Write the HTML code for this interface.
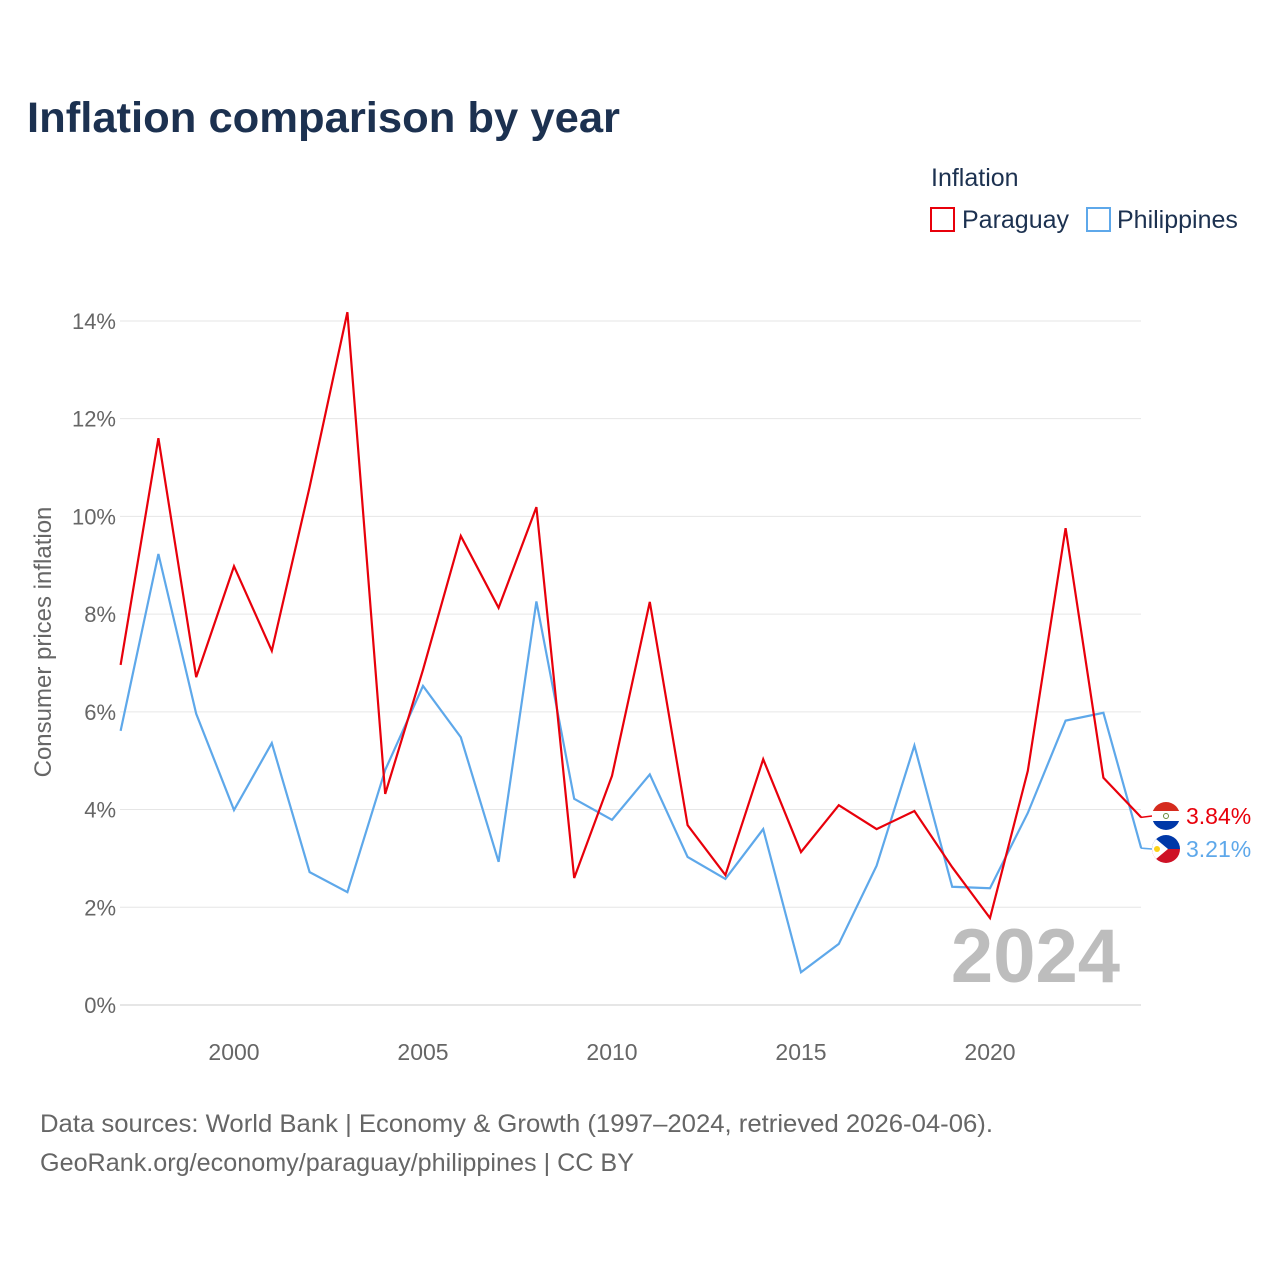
<!DOCTYPE html>
<html><head><meta charset="utf-8"><style>
body{margin:0;background:#fff;font-family:"Liberation Sans",sans-serif}
</style></head><body>
<svg width="1280" height="1280" xmlns="http://www.w3.org/2000/svg" font-family="Liberation Sans, sans-serif" id="chart">
<defs>
<clipPath id="c1"><circle cx="1166" cy="816" r="14"/></clipPath>
<clipPath id="c2"><circle cx="1166" cy="849" r="14"/></clipPath>
</defs>
<text x="27" y="132" font-size="43" font-weight="bold" fill="#1c3150" textLength="593" lengthAdjust="spacingAndGlyphs">Inflation comparison by year</text>
<text x="931" y="186" font-size="25" fill="#1c3150">Inflation</text>
<g><rect x="931" y="208" width="23" height="23" fill="none" stroke="#e8000b" stroke-width="2"/><text x="962" y="228" font-size="25" fill="#1c3150">Paraguay</text></g>
<g><rect x="1087" y="208" width="23" height="23" fill="none" stroke="#5ea8ea" stroke-width="2"/><text x="1117" y="228" font-size="25" fill="#1c3150">Philippines</text></g>
<text transform="translate(51,642) rotate(-90)" text-anchor="middle" font-size="24" fill="#666">Consumer prices inflation</text>
<g id="grid"></g><g id="xt"></g><g id="lines"></g>
<text x="1120" y="982" text-anchor="end" font-size="76" font-weight="bold" fill="#bdbdbd">2024</text>
<text x="40" y="1132" font-size="25" fill="#666" textLength="953" lengthAdjust="spacingAndGlyphs">Data sources: World Bank | Economy &amp; Growth (1997–2024, retrieved 2026-04-06).</text>
<text x="40" y="1171" font-size="25" fill="#666" textLength="594" lengthAdjust="spacingAndGlyphs">GeoRank.org/economy/paraguay/philippines | CC BY</text>
</svg>
<script>
const years=[1997,1998,1999,2000,2001,2002,2003,2004,2005,2006,2007,2008,2009,2010,2011,2012,2013,2014,2015,2016,2017,2018,2019,2020,2021,2022,2023,2024];
const paraguay=[6.96,11.6,6.71,8.98,7.25,10.6,14.18,4.32,6.86,9.6,8.13,10.19,2.6,4.69,8.25,3.68,2.66,5.03,3.13,4.09,3.6,3.97,2.82,1.78,4.79,9.76,4.65,3.84];
const philippines=[5.61,9.23,5.96,3.99,5.36,2.72,2.31,4.81,6.53,5.48,2.93,8.26,4.22,3.79,4.72,3.03,2.58,3.6,0.67,1.25,2.85,5.31,2.42,2.39,3.93,5.82,5.98,3.21];
const yTicks=[0,2,4,6,8,10,12,14];
const xTicks=[2000,2005,2010,2015,2020];
const NS="http://www.w3.org/2000/svg";
const X=y=>120.6+(y-1997)*37.8, Y=v=>1005-v*48.86;
function mk(t,a,p){const e=document.createElementNS(NS,t);for(const k in a)e.setAttribute(k,a[k]);p.appendChild(e);return e;}
const g=document.getElementById('grid');
yTicks.forEach(v=>{
 const l=mk('line',{x1:120,x2:1141,y1:Y(v),y2:Y(v),stroke:v==0?'#ccc':'#e6e6e6'},g);
 
 
 const t=mk('text',{x:116,y:Y(v)+8,'text-anchor':'end','font-size':22,fill:'#666'},g);t.textContent=v+'%';
 
 
});
const xt=document.getElementById('xt');
xTicks.forEach(v=>{
 const t=mk('text',{x:X(v),y:1060,'text-anchor':'middle','font-size':23,fill:'#666'},xt);t.textContent=v;
 
 
});
const L=document.getElementById('lines');
function series(d,c,name,ly,flag){
 const p=mk('polyline',{points:d.map((v,i)=>X(years[i])+','+Y(v)).join(' '),fill:'none',stroke:c,'stroke-width':2.2},L);
 
 
 const last=d[d.length-1];
 mk('line',{x1:1141,y1:Y(last),x2:1152,y2:ly,stroke:c,'stroke-width':1.5},L);
 const f=mk('g',{},L);
 
 
 flag(f,ly);
 const t=mk('text',{x:1186,y:ly+8,'font-size':23,fill:c},L);t.textContent=last.toFixed(2)+'%';
 
 
}
series(philippines,'#5ea8ea','philippines',849,(f,y)=>{
 const gg=mk('g',{'clip-path':'url(#c2)'},f);
 mk('rect',{x:1150,y:y-15,width:32,height:15,fill:'#0038a8'},gg);
 mk('rect',{x:1150,y:y,width:32,height:15,fill:'#ce1126'},gg);
 mk('polygon',{points:`1150,${y-15} 1168,${y} 1150,${y+15}`,fill:'#fff'},gg);
 mk('circle',{cx:1157,cy:y,r:3,fill:'#fcd116'},gg);
});
series(paraguay,'#e8000b','paraguay',816,(f,y)=>{
 const gg=mk('g',{'clip-path':'url(#c1)'},f);
 mk('rect',{x:1150,y:y-15,width:32,height:10,fill:'#d52b1e'},gg);
 mk('rect',{x:1150,y:y-5,width:32,height:10,fill:'#fff'},gg);
 mk('rect',{x:1150,y:y+5,width:32,height:10,fill:'#0038a8'},gg);
 mk('circle',{cx:1166,cy:y,r:2.5,fill:'none',stroke:'#6a8a3a','stroke-width':1},gg);
});
</script>
</body></html>
